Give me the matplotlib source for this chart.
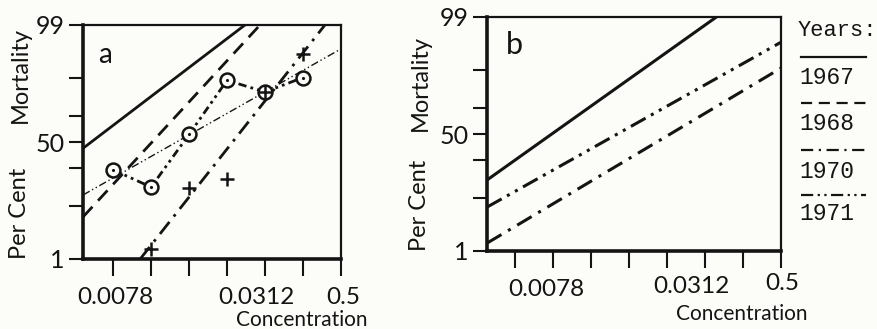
import numpy as np
import matplotlib.pyplot as plt
from matplotlib.lines import Line2D
from matplotlib.transforms import ScaledTranslation
from statistics import NormalDist

# concentration ticks (doubling series) and the labels printed under them
conc_ticks = [0.00390625, 0.0078125, 0.015625, 0.03125, 0.0625, 0.125, 0.25, 0.5]
conc_labels = ['', '0.0078', '', '', '', '0.0312', '', '0.5']
pct_ticks = [1, 10, 30, 50, 70, 90, 99]
pct_labels = ['1', '', '', '50', '', '', '99']

# panel a: fitted lines (end points) per year
a_1967_x = [0.00451, 0.0866]
a_1967_y = [45, 99]
a_1968_x = [0.00451, 0.114]
a_1968_y = [6.8, 99]
a_1970_x = [0.0128, 0.373]
a_1970_y = [1, 99]
a_1971_x = [0.00451, 0.5]
a_1971_y = [14.6, 96.8]

# panel a: observed points
obs_1970_x = [0.015625, 0.03125, 0.0625, 0.125, 0.25]
obs_1970_y = [1.7, 18, 23, 84, 96]
obs_1971_x = [0.0078125, 0.015625, 0.03125, 0.0625, 0.125, 0.25]
obs_1971_y = [29, 18.5, 56, 89, 84, 90]

# panel b: fitted lines
b_1967_x = [0.00235, 0.154]
b_1967_y = [18, 99]
b_1970_x = [0.00235, 0.5]
b_1970_y = [1.5, 90.5]
b_1971_x = [0.00235, 0.5]
b_1971_y = [7.3, 96.6]

_nd = NormalDist()


def probit(p):
    p = np.clip(np.asarray(p, dtype=float), 0.01, 99.99)
    return np.vectorize(lambda v: _nd.inv_cdf(v / 100.0), otypes=[float])(p)


def inv_probit(z):
    z = np.asarray(z, dtype=float)
    return np.vectorize(lambda v: 100.0 * _nd.cdf(v), otypes=[float])(z)


DASHED = (0, (5, 3))
DASHDOT = (0, (5.5, 2.5, 1, 2.5))
DASHDOTDOT = (0, (5.5, 2, 1, 2, 1, 2))
INK = '#141414'
PAPER = '#fcfcf9'

fig = plt.figure(figsize=(8.77, 3.29), dpi=100, facecolor=PAPER)
plt.rcParams['font.family'] = ['Lato', 'DejaVu Sans']

W, H = 877.0, 329.0


def make_axes(left, right, top, bottom, xmin):
    ax = fig.add_axes([left / W, 1 - bottom / H, (right - left) / W, (bottom - top) / H])
    ax.set_facecolor(PAPER)
    ax.set_xscale('log', base=2)
    ax.set_yscale('function', functions=(probit, inv_probit))
    ax.set_xticks(conc_ticks)
    ax.set_xticklabels(conc_labels)
    ax.xaxis.set_minor_locator(plt.NullLocator())
    ax.set_yticks(pct_ticks)
    ax.set_yticklabels(pct_labels)
    ax.yaxis.set_minor_locator(plt.NullLocator())
    ax.set_xlim(xmin, 0.5)
    ax.set_ylim(1, 99)
    ax.tick_params(axis='y', direction='out', length=10, width=1.5, color=INK,
                   labelsize=18, pad=3, labelcolor=INK)
    ax.tick_params(axis='x', direction='out', length=12, width=1.5, color=INK,
                   labelsize=17.5, pad=7.5, labelcolor=INK)
    for s in ['left', 'bottom']:
        ax.spines[s].set_linewidth(2.6)
        ax.spines[s].set_color(INK)
    for s in ['top', 'right']:
        ax.spines[s].set_linewidth(1.6)
        ax.spines[s].set_color(INK)
    return ax


def nudge_xlabels(ax, shifts):
    # the printed labels sit a little off their ticks; shifts in pixels (dx, dy)
    ticks = ax.xaxis.get_major_ticks()
    for i, (dx, dy) in shifts.items():
        lab = ticks[i].label1
        lab.set_transform(lab.get_transform() +
                          ScaledTranslation(dx / 100.0, -dy / 100.0, fig.dpi_scale_trans))


# ---- panel a ----
ax1 = make_axes(83, 341, 25, 259, 0.00451)
ax1.plot(a_1967_x, a_1967_y, color=INK, lw=2.0, solid_capstyle='butt')
ax1.plot(a_1968_x, a_1968_y, color=INK, lw=2.0, ls=DASHED)
ax1.plot(a_1970_x, a_1970_y, color=INK, lw=2.0, ls=DASHDOT)
ax1.plot(a_1971_x, a_1971_y, color=INK, lw=1.0, ls=DASHDOTDOT)
ax1.plot(obs_1971_x, obs_1971_y, color=INK, lw=2.0, ls=(0, (3, 1.5, 1, 1.5, 1, 1.5)),
         marker='o', ms=10, mfc=PAPER, mec=INK, mew=1.8)
ax1.plot(obs_1971_x, obs_1971_y, ls='none', marker='.', ms=2.5, color=INK)
ax1.plot(obs_1970_x, obs_1970_y, ls='none', marker='+', ms=9.5, mew=1.8, color=INK)
ax1.text(0.06, 0.87, 'a', transform=ax1.transAxes, fontsize=20, color=INK,
         ha='left', va='center')
nudge_xlabels(ax1, {1: (2, 1), 5: (-9, 1), 7: (2, 1)})

# ---- panel b ----
ax2 = make_axes(487, 781, 17, 251, 0.00235)
ax2.plot(b_1967_x, b_1967_y, color=INK, lw=2.2)
ax2.plot(b_1970_x, b_1970_y, color=INK, lw=2.2, ls=DASHDOT)
ax2.plot(b_1971_x, b_1971_y, color=INK, lw=2.2, ls=DASHDOTDOT)
ax2.text(0.065, 0.88, 'b', transform=ax2.transAxes, fontsize=22, color=INK,
         ha='left', va='center')
nudge_xlabels(ax2, {1: (-7, 1), 5: (-14, -2), 7: (1, -5)})

# axis titles
for xc, y_mort, y_per in [(20, 75, 213), (420, 83, 205)]:
    fig.text(xc / W, 1 - y_mort / H, 'Mortality', rotation=90, fontsize=17,
             ha='center', va='center', color=INK)
    fig.text(xc / W, 1 - y_per / H, 'Per Cent', rotation=90, fontsize=17,
             ha='center', va='center', color=INK)
fig.text(302 / W, 1 - 320 / H, 'Concentration', fontsize=15, ha='center', va='center', color=INK)
fig.text(742 / W, 1 - 314 / H, 'Concentration', fontsize=15, ha='center', va='center', color=INK)

# hand-drawn legend
mono = 'Liberation Mono'
fig.text(798 / W, 1 - 30 / H, 'Years:', family=mono, fontsize=15.8, ha='left', va='center', color=INK)
leg_years = ['1967', '1968', '1970', '1971']
leg_styles = ['-', DASHED, DASHDOT, DASHDOTDOT]
leg_line_y = [57, 103, 150, 195]
leg_text_y = [77, 124, 171, 214]
for yr, st, ly, ty in zip(leg_years, leg_styles, leg_line_y, leg_text_y):
    fig.add_artist(Line2D([801 / W, 866 / W], [1 - ly / H, 1 - ly / H], transform=fig.transFigure,
                          color=INK, lw=1.6, ls=st))
    fig.text(799 / W, 1 - ty / H, yr, family=mono, fontsize=16.5, ha='left', va='center', color=INK)

fig.savefig('out.png', dpi=100, facecolor=PAPER)
